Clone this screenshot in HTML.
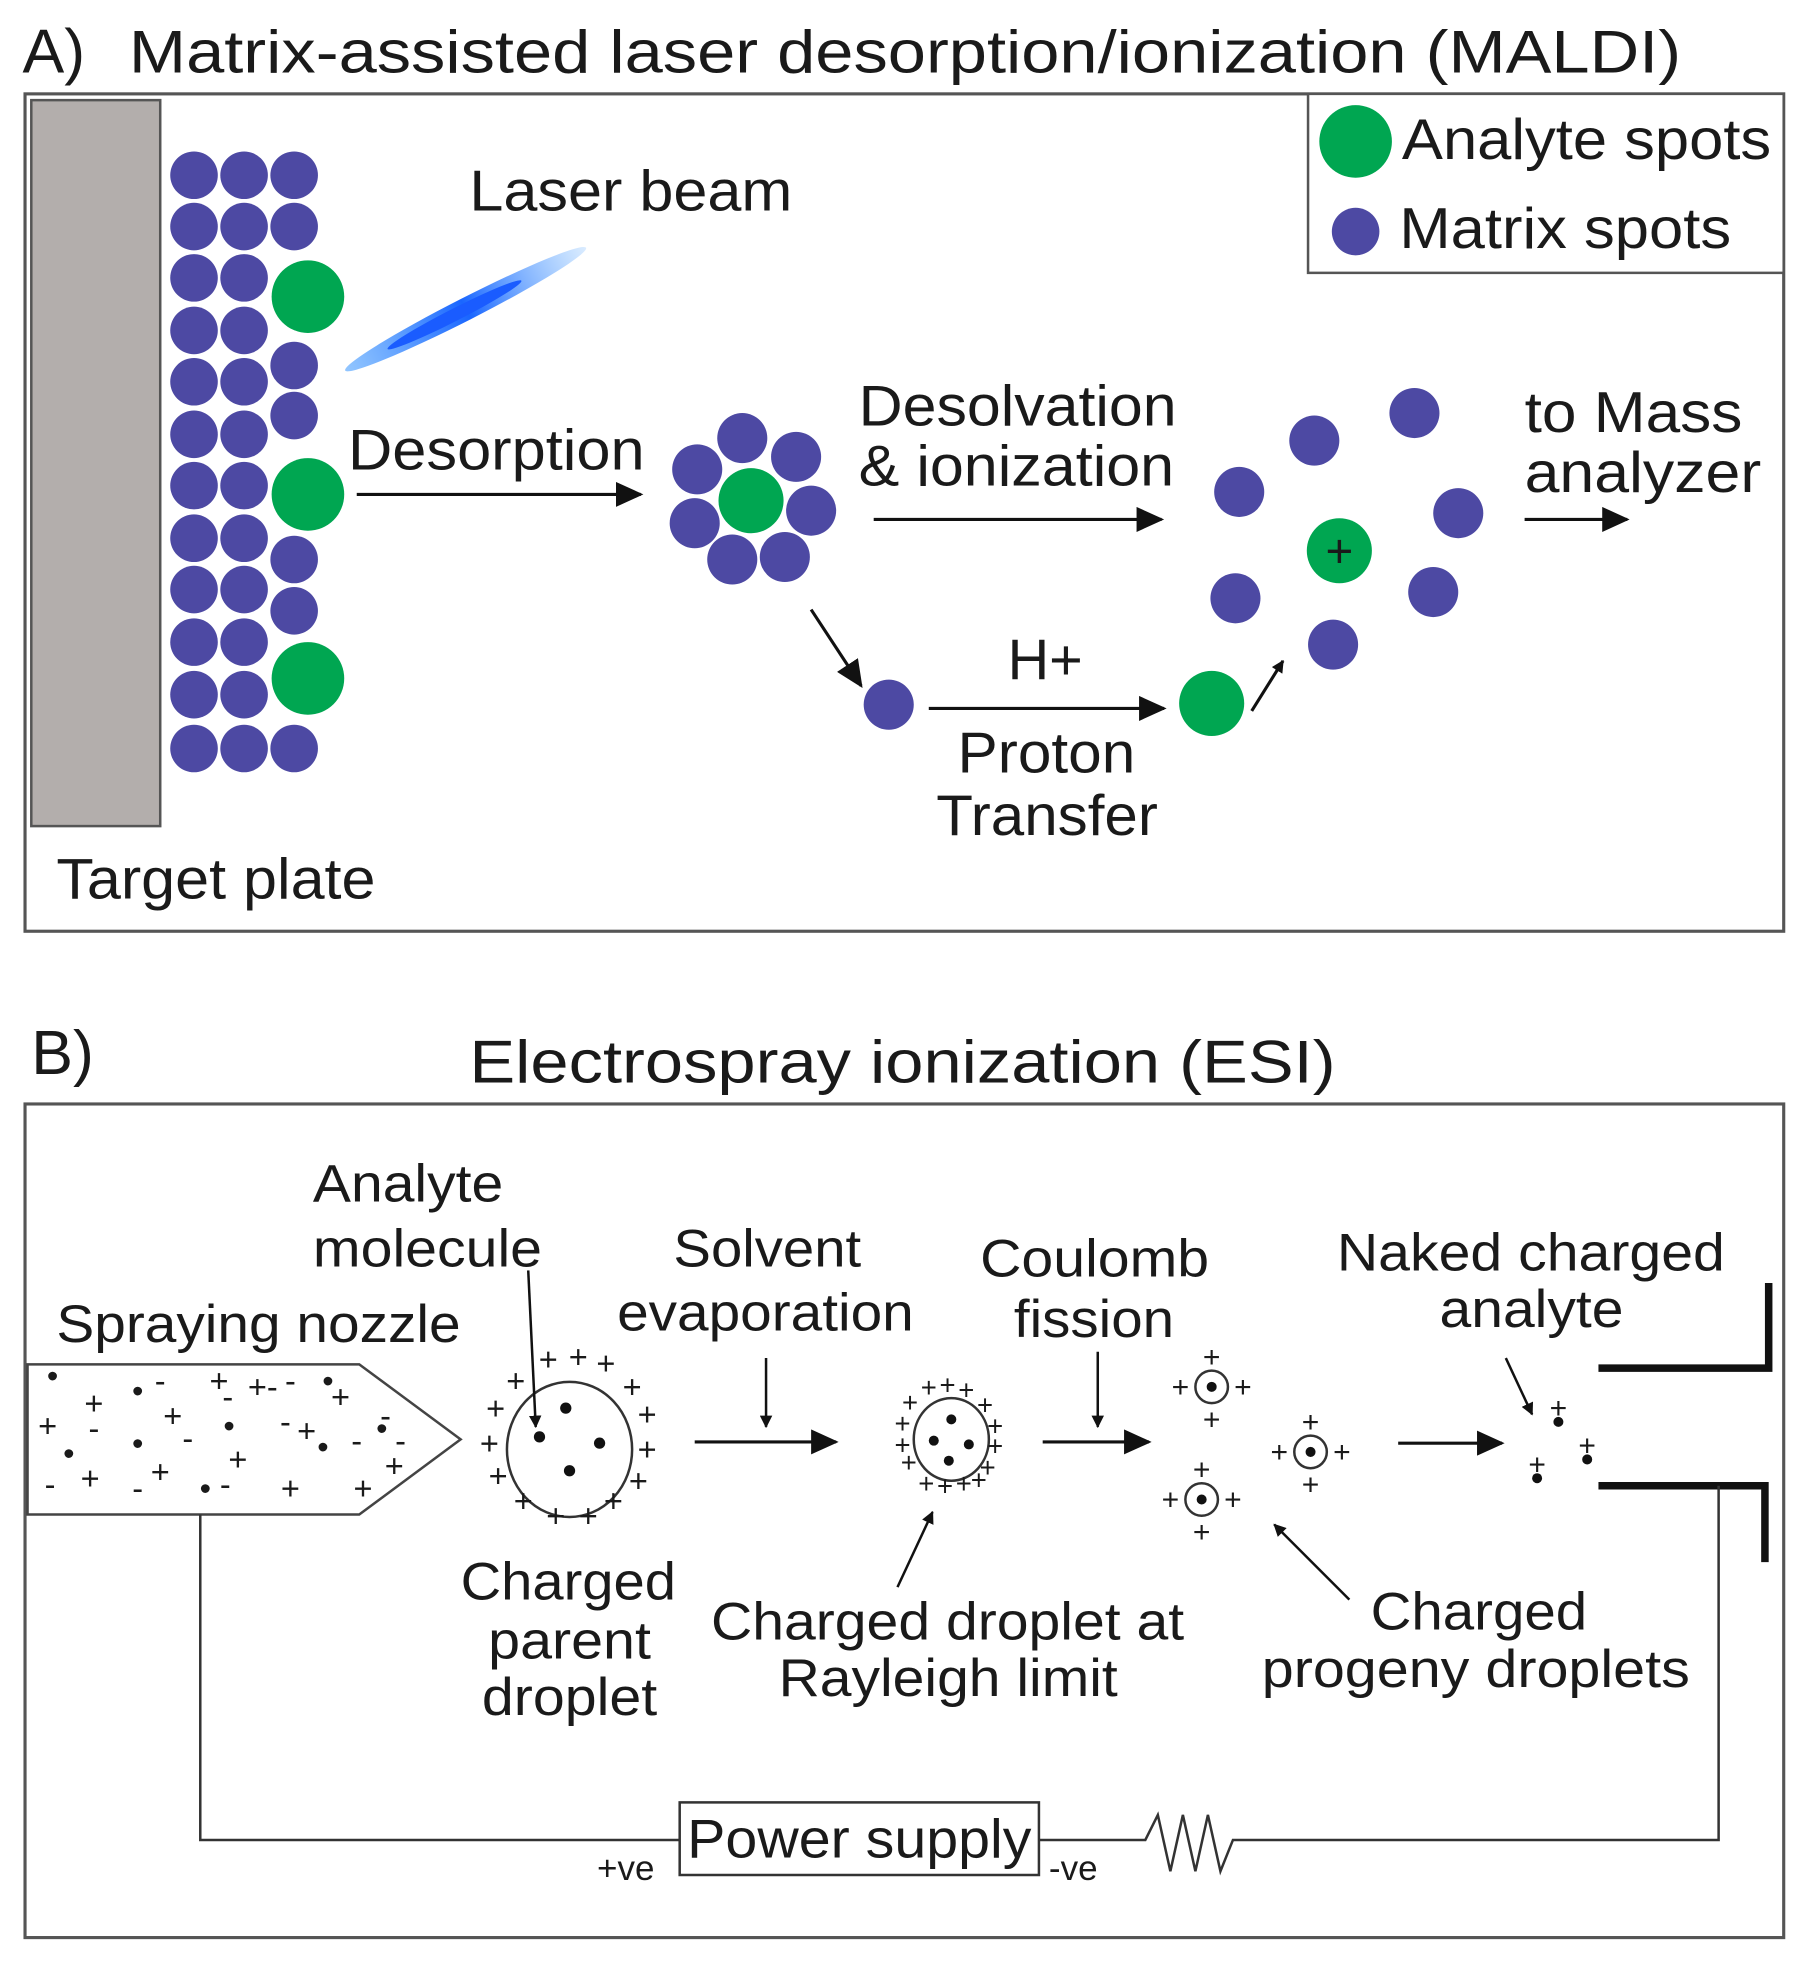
<!DOCTYPE html>
<html><head><meta charset="utf-8"><style>
html,body{margin:0;padding:0;background:#fff;}
svg{display:block;}
text{font-family:"Liberation Sans",sans-serif;fill:#1a1a1a;}
</style></head><body>
<svg width="1815" height="1972" viewBox="0 0 1450 1575.5" preserveAspectRatio="none" xmlns="http://www.w3.org/2000/svg">
<defs>
<marker id="ah" markerWidth="10" markerHeight="10" refX="9" refY="5" orient="auto" markerUnits="userSpaceOnUse"><path d="M0,0 L10,5 L0,10 Z" fill="#111"/></marker>
<marker id="ahb" markerWidth="22" markerHeight="20" refX="20" refY="10" orient="auto" markerUnits="userSpaceOnUse"><path d="M0,0 L22,10 L0,20 Z" fill="#111"/></marker>
<linearGradient id="lz" x1="0" y1="0" x2="1" y2="0"><stop offset="0" stop-color="#4aa0ff" stop-opacity="0.6"/><stop offset="0.5" stop-color="#1a66ff"/><stop offset="1" stop-color="#4aa0ff" stop-opacity="0.2"/></linearGradient>
<g id="pg">
<circle cx="0" cy="0" r="13" fill="none" stroke="#333" stroke-width="2"/><circle cx="0" cy="0" r="4" fill="#111"/>
<g font-size="24" text-anchor="middle"><text x="0" y="-16">+</text><text x="0" y="34">+</text><text x="-25" y="8">+</text><text x="25" y="8">+</text></g>
</g>
<g id="c1">
<circle cx="155" cy="140" r="19"/><circle cx="155" cy="181" r="19"/><circle cx="155" cy="222" r="19"/><circle cx="155" cy="264" r="19"/><circle cx="155" cy="305" r="19"/><circle cx="155" cy="347" r="19"/><circle cx="155" cy="388" r="19"/><circle cx="155" cy="430" r="19"/><circle cx="155" cy="471" r="19"/><circle cx="155" cy="513" r="19"/><circle cx="155" cy="555" r="19"/><circle cx="155" cy="598" r="19"/>
</g>
</defs>

<!-- Panel A -->
<text x="18" y="58" font-size="50">A)</text>
<text x="103" y="58" font-size="48" textLength="1240" lengthAdjust="spacingAndGlyphs">Matrix-assisted laser desorption/ionization (MALDI)</text>
<rect x="20" y="75" width="1405" height="669" fill="none" stroke="#555" stroke-width="2.5"/>
<rect x="25" y="80" width="103" height="580" fill="#b3aeac" stroke="#555" stroke-width="2"/>
<g fill="#4d49a3">
<use href="#c1"/>
<use href="#c1" x="40"/>
<circle cx="235" cy="140" r="19"/><circle cx="235" cy="181" r="19"/><circle cx="235" cy="292" r="19"/><circle cx="235" cy="332" r="19"/><circle cx="235" cy="447" r="19"/><circle cx="235" cy="488" r="19"/><circle cx="235" cy="598" r="19"/>
</g>
<g fill="#00a651">
<circle cx="246" cy="237" r="29"/><circle cx="246" cy="395" r="29"/><circle cx="246" cy="542" r="29"/>
</g>
<g transform="translate(372,247) rotate(-27)">
<ellipse cx="0" cy="0" rx="108" ry="9" fill="url(#lz)"/>
<ellipse cx="-10" cy="0" rx="60" ry="5" fill="#1a5cff"/>
</g>
<text x="375" y="168" font-size="46" textLength="258" lengthAdjust="spacingAndGlyphs">Laser beam</text>
<rect x="1045" y="75" width="380" height="143" fill="#fff" stroke="#555" stroke-width="2"/>
<circle cx="1083" cy="113" r="29" fill="#00a651"/>
<text x="1120" y="127" font-size="46" textLength="295" lengthAdjust="spacingAndGlyphs">Analyte spots</text>
<circle cx="1083" cy="185" r="19" fill="#4d49a3"/>
<text x="1118" y="198" font-size="46" textLength="265" lengthAdjust="spacingAndGlyphs">Matrix spots</text>

<text x="278" y="375" font-size="46" textLength="237" lengthAdjust="spacingAndGlyphs">Desorption</text>
<line x1="285" y1="395" x2="512" y2="395" stroke="#111" stroke-width="2.5" marker-end="url(#ahb)"/>
<g fill="#4d49a3">
<circle cx="593" cy="350" r="20"/><circle cx="636" cy="365" r="20"/><circle cx="557" cy="375" r="20"/><circle cx="648" cy="408" r="20"/><circle cx="555" cy="418" r="20"/><circle cx="585" cy="447" r="20"/><circle cx="627" cy="445" r="20"/>
</g>
<circle cx="600" cy="400" r="26" fill="#00a651"/>
<text x="686" y="340" font-size="46" textLength="254" lengthAdjust="spacingAndGlyphs">Desolvation</text>
<text x="686" y="388" font-size="46" textLength="252" lengthAdjust="spacingAndGlyphs">&amp; ionization</text>
<line x1="698" y1="415" x2="928" y2="415" stroke="#111" stroke-width="2.5" marker-end="url(#ahb)"/>
<g fill="#4d49a3">
<circle cx="990" cy="393" r="20"/><circle cx="1050" cy="352" r="20"/><circle cx="1130" cy="330" r="20"/><circle cx="1165" cy="410" r="20"/><circle cx="1145" cy="473" r="20"/><circle cx="1065" cy="515" r="20"/><circle cx="987" cy="478" r="20"/>
<circle cx="710" cy="563" r="20"/>
</g>
<circle cx="1070" cy="440" r="26" fill="#00a651"/>
<text x="1070" y="453" font-size="38" text-anchor="middle">+</text>
<text x="1218" y="345" font-size="46" textLength="174" lengthAdjust="spacingAndGlyphs">to Mass</text>
<text x="1218" y="393" font-size="46" textLength="189" lengthAdjust="spacingAndGlyphs">analyzer</text>
<line x1="1218" y1="415" x2="1300" y2="415" stroke="#111" stroke-width="2.5" marker-end="url(#ahb)"/>
<line x1="648" y1="487" x2="688" y2="548" stroke="#111" stroke-width="2.5" marker-end="url(#ahb)"/>
<line x1="742" y1="566" x2="930" y2="566" stroke="#111" stroke-width="2.5" marker-end="url(#ahb)"/>
<text x="835" y="543" font-size="46" text-anchor="middle">H+</text>
<circle cx="968" cy="562" r="26" fill="#00a651"/>
<line x1="1000" y1="568" x2="1025" y2="528" stroke="#111" stroke-width="2.5" marker-end="url(#ah)"/>
<text x="765" y="617" font-size="46" textLength="142" lengthAdjust="spacingAndGlyphs">Proton</text>
<text x="748" y="667" font-size="46" textLength="177" lengthAdjust="spacingAndGlyphs">Transfer</text>
<text x="45" y="718" font-size="46" textLength="255" lengthAdjust="spacingAndGlyphs">Target plate</text>

<!-- Panel B -->
<text x="25" y="858" font-size="50">B)</text>
<text x="375" y="865" font-size="48" textLength="692" lengthAdjust="spacingAndGlyphs">Electrospray ionization (ESI)</text>
<rect x="20" y="882" width="1405" height="666" fill="none" stroke="#555" stroke-width="2.5"/>
<polygon points="22,1090 287,1090 368,1150 287,1210 22,1210" fill="#fff" stroke="#444" stroke-width="2"/>
<g font-size="26" text-anchor="middle">
<text x="42" y="1108">•</text><text x="75" y="1130">+</text><text x="110" y="1120">•</text><text x="128" y="1112">-</text><text x="175" y="1112">+</text><text x="182" y="1125">-</text><text x="210" y="1117">+-</text><text x="232" y="1112">-</text><text x="262" y="1112">•</text><text x="272" y="1125">+</text>
<text x="38" y="1148">+</text><text x="75" y="1150">-</text><text x="138" y="1140">+</text><text x="183" y="1148">•</text><text x="228" y="1145">-</text><text x="245" y="1152">+</text><text x="308" y="1140">-</text>
<text x="55" y="1170">•</text><text x="110" y="1162">•</text><text x="150" y="1158">-</text><text x="258" y="1165">•</text><text x="285" y="1160">-</text><text x="305" y="1150">•</text>
<text x="190" y="1175">+</text><text x="128" y="1185">+</text><text x="72" y="1190">+</text><text x="40" y="1195">-</text><text x="110" y="1198">-</text><text x="164" y="1198">•</text><text x="180" y="1195">-</text><text x="232" y="1198">+</text><text x="290" y="1198">+</text><text x="315" y="1180">+</text><text x="320" y="1160">-</text>
</g>
<text x="250" y="960" font-size="42" textLength="152" lengthAdjust="spacingAndGlyphs">Analyte</text>
<text x="250" y="1012" font-size="42" textLength="183" lengthAdjust="spacingAndGlyphs">molecule</text>
<text x="45" y="1072" font-size="42" textLength="323" lengthAdjust="spacingAndGlyphs">Spraying nozzle</text>
<text x="538" y="1012" font-size="42" textLength="150" lengthAdjust="spacingAndGlyphs">Solvent</text>
<text x="493" y="1063" font-size="42" textLength="237" lengthAdjust="spacingAndGlyphs">evaporation</text>
<text x="783" y="1020" font-size="42" textLength="183" lengthAdjust="spacingAndGlyphs">Coulomb</text>
<text x="810" y="1068" font-size="42" textLength="128" lengthAdjust="spacingAndGlyphs">fission</text>
<text x="1068" y="1015" font-size="42" textLength="310" lengthAdjust="spacingAndGlyphs">Naked charged</text>
<text x="1150" y="1060" font-size="42" textLength="147" lengthAdjust="spacingAndGlyphs">analyte</text>

<!-- parent droplet -->
<ellipse cx="455" cy="1158" rx="50" ry="54" fill="none" stroke="#333" stroke-width="2"/>
<g fill="#111"><circle cx="452" cy="1125" r="4.5"/><circle cx="431" cy="1148" r="4.5"/><circle cx="479" cy="1153" r="4.5"/><circle cx="455" cy="1175" r="4.5"/></g>
<g font-size="26" text-anchor="middle">
<text x="438" y="1095">+</text><text x="462" y="1093">+</text><text x="484" y="1098">+</text><text x="412" y="1112">+</text><text x="505" y="1117">+</text><text x="396" y="1134">+</text><text x="517" y="1139">+</text><text x="391" y="1162">+</text><text x="517" y="1167">+</text><text x="398" y="1188">+</text><text x="510" y="1192">+</text><text x="418" y="1208">+</text><text x="444" y="1220">+</text><text x="470" y="1220">+</text><text x="490" y="1208">+</text>
</g>
<line x1="422" y1="1015" x2="428" y2="1140" stroke="#111" stroke-width="2" marker-end="url(#ah)"/>
<line x1="555" y1="1152" x2="668" y2="1152" stroke="#111" stroke-width="2.5" marker-end="url(#ahb)"/>
<line x1="612" y1="1085" x2="612" y2="1140" stroke="#111" stroke-width="2" marker-end="url(#ah)"/>
<!-- rayleigh droplet -->
<ellipse cx="760" cy="1150" rx="30" ry="33" fill="none" stroke="#333" stroke-width="2"/>
<g fill="#111"><circle cx="760" cy="1134" r="4"/><circle cx="746" cy="1151" r="4"/><circle cx="774" cy="1154" r="4"/><circle cx="758" cy="1167" r="4"/></g>
<g font-size="22" text-anchor="middle">
<text x="742" y="1116">+</text><text x="757" y="1114">+</text><text x="772" y="1118">+</text><text x="727" y="1128">+</text><text x="787" y="1130">+</text><text x="721" y="1145">+</text><text x="795" y="1147">+</text><text x="721" y="1162">+</text><text x="795" y="1163">+</text><text x="726" y="1176">+</text><text x="789" y="1180">+</text><text x="740" y="1193">+</text><text x="755" y="1195">+</text><text x="770" y="1193">+</text><text x="782" y="1190">+</text>
</g>
<line x1="833" y1="1152" x2="918" y2="1152" stroke="#111" stroke-width="2.5" marker-end="url(#ahb)"/>
<line x1="877" y1="1080" x2="877" y2="1140" stroke="#111" stroke-width="2" marker-end="url(#ah)"/>
<!-- progeny -->
<use href="#pg" x="968" y="1108"/>
<use href="#pg" x="1047" y="1160"/>
<use href="#pg" x="960" y="1198"/>
<line x1="1117" y1="1153" x2="1200" y2="1153" stroke="#111" stroke-width="2.5" marker-end="url(#ahb)"/>
<!-- naked -->
<g fill="#111"><circle cx="1245" cy="1136" r="4"/><circle cx="1228" cy="1181" r="4"/><circle cx="1268" cy="1166" r="4"/></g>
<g font-size="24" text-anchor="middle"><text x="1245" y="1133">+</text><text x="1228" y="1178">+</text><text x="1268" y="1163">+</text></g>
<line x1="1203" y1="1085" x2="1224" y2="1130" stroke="#111" stroke-width="2" marker-end="url(#ah)"/>
<!-- inlet -->
<g stroke="#111" stroke-width="6" fill="none">
<polyline points="1277,1093 1413,1093 1413,1025"/>
<polyline points="1277,1187 1410,1187 1410,1248"/>
</g>
<!-- labels below -->
<text x="368" y="1278" font-size="42" textLength="172" lengthAdjust="spacingAndGlyphs">Charged</text>
<text x="390" y="1325" font-size="42" textLength="130" lengthAdjust="spacingAndGlyphs">parent</text>
<text x="385" y="1370" font-size="42" textLength="140" lengthAdjust="spacingAndGlyphs">droplet</text>
<text x="568" y="1310" font-size="42" textLength="378" lengthAdjust="spacingAndGlyphs">Charged droplet at</text>
<text x="622" y="1355" font-size="42" textLength="271" lengthAdjust="spacingAndGlyphs">Rayleigh limit</text>
<line x1="717" y1="1268" x2="745" y2="1208" stroke="#111" stroke-width="2" marker-end="url(#ah)"/>
<text x="1095" y="1302" font-size="42" textLength="173" lengthAdjust="spacingAndGlyphs">Charged</text>
<text x="1008" y="1348" font-size="42" textLength="342" lengthAdjust="spacingAndGlyphs">progeny droplets</text>
<line x1="1078" y1="1278" x2="1018" y2="1218" stroke="#111" stroke-width="2" marker-end="url(#ah)"/>
<!-- circuit -->
<g stroke="#333" stroke-width="2" fill="none">
<polyline points="160,1210 160,1470 543,1470"/>
<rect x="543" y="1440" width="287" height="58"/>
<polyline points="830,1470 915,1470 925,1450 935,1495 945,1450 955,1495 965,1450 975,1495 985,1470 1373,1470 1373,1187"/>
</g>
<text x="549" y="1484" font-size="44" textLength="275" lengthAdjust="spacingAndGlyphs">Power supply</text>
<text x="477" y="1502" font-size="28">+ve</text>
<text x="838" y="1502" font-size="28">-ve</text>
</svg>
</body></html>
